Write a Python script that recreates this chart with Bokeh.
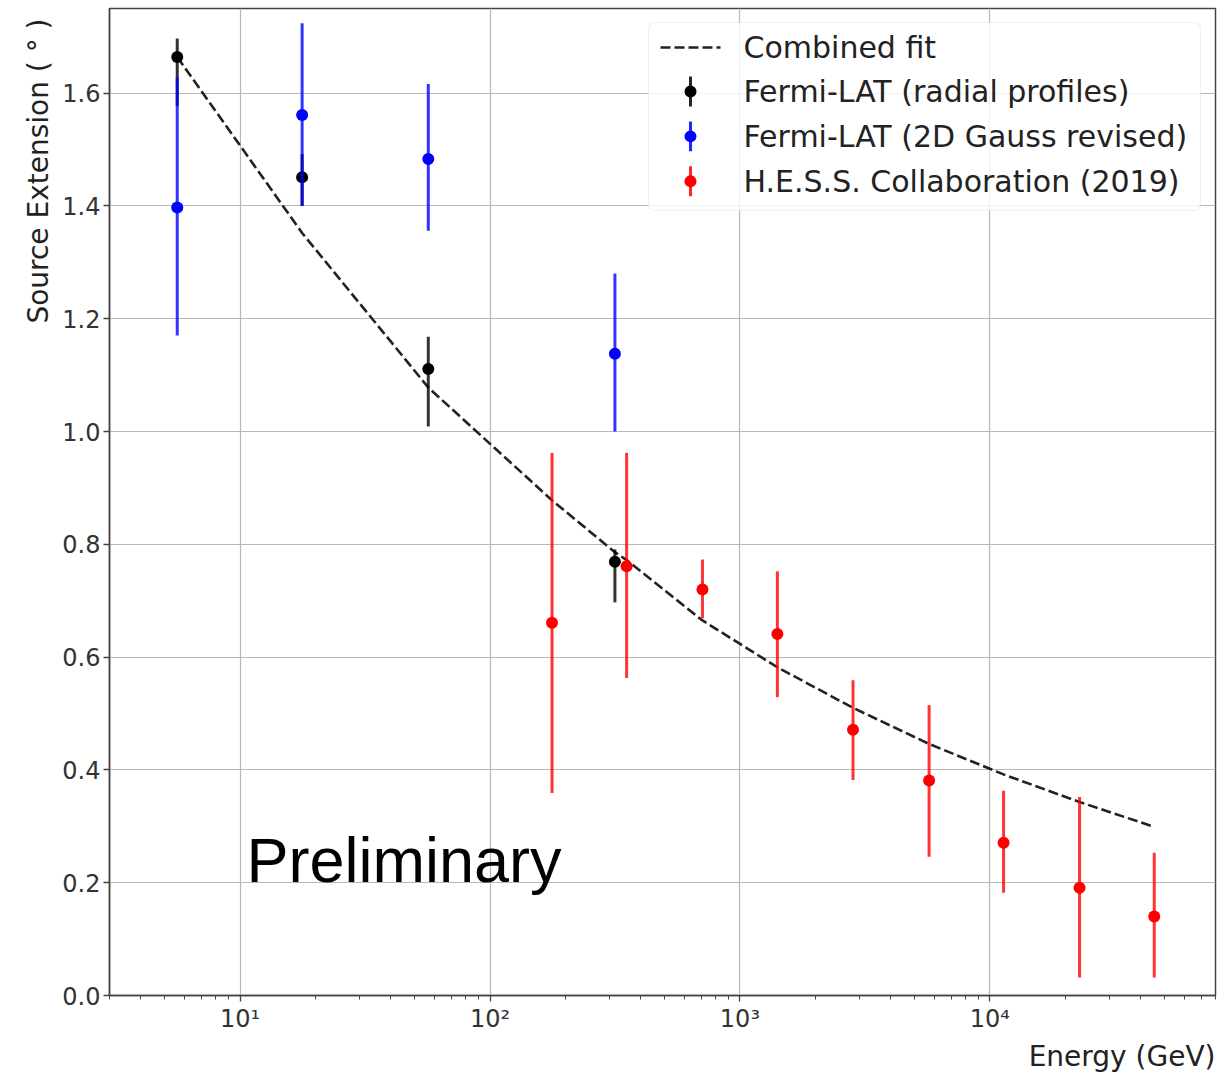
import math

from bokeh.embed import file_html
from bokeh.models import (Arrow, BoxAnnotation, ColumnDataSource, CustomJSTickFormatter,
                          FixedTicker, Label, LogTicker, NumeralTickFormatter, Range1d, Title)
from bokeh.plotting import figure
from bokeh.resources import INLINE

# ---- data -------------------------------------------------------------
# Fermi-LAT (radial profiles): energy [GeV], extension [deg], lower / upper bounds
lat_rad_energy = [5.6, 17.7, 56.6, 316.0]
lat_rad_ext = [1.664, 1.451, 1.111, 0.769]
lat_rad_lo = [1.577, 1.400, 1.009, 0.697]
lat_rad_hi = [1.697, 1.492, 1.168, 0.791]

# Fermi-LAT (2D Gauss revised)
lat_gauss_energy = [5.6, 17.7, 56.6, 316.0]
lat_gauss_ext = [1.397, 1.561, 1.483, 1.138]
lat_gauss_lo = [1.170, 1.400, 1.356, 1.000]
lat_gauss_hi = [1.628, 1.724, 1.616, 1.280]

# H.E.S.S. Collaboration (2019)
hess_energy = [177, 352, 708, 1412, 2835, 5715, 11350, 22860, 45500]
hess_ext = [0.661, 0.761, 0.720, 0.641, 0.471, 0.381, 0.271, 0.191, 0.140]
hess_lo = [0.359, 0.563, 0.669, 0.529, 0.382, 0.246, 0.182, 0.032, 0.032]
hess_hi = [0.962, 0.962, 0.773, 0.752, 0.559, 0.515, 0.363, 0.352, 0.253]

# combined fit evaluated at the measured energies
fit_energy = [5.6, 17.7, 56.6, 177, 316, 352, 708, 1412, 2835, 5715, 11350, 22860, 45500]
fit_ext = [1.664, 1.352, 1.078, 0.878, 0.786, 0.772, 0.665, 0.582, 0.510, 0.446,
           0.392, 0.343, 0.299]

y_ticks = [0.0, 0.2, 0.4, 0.6, 0.8, 1.0, 1.2, 1.4, 1.6]

legend_labels = ["Combined fit", "Fermi-LAT (radial profiles)",
                 "Fermi-LAT (2D Gauss revised)", "H.E.S.S. Collaboration (2019)"]
series_colors = ["#000000", "#0000ff", "#ff0000"]

x_label = "Energy (GeV)"
y_label = "Source Extension ( \u00b0 )"

# ---- figure -------------------------------------------------------------
X_LO, X_HI = 3.0, 8.0e4
Y_LO, Y_HI = 0.0, 1.75
FRAME_W, FRAME_H = 1106, 988

FONT = "DejaVu Sans"
TEXT = "#222222"
SPINE = "#444444"

p = figure(width=1227, height=1074, x_axis_type="log",
           x_range=Range1d(X_LO, X_HI), y_range=Range1d(Y_LO, Y_HI),
           output_backend="svg", toolbar_location=None,
           min_border_left=109, min_border_right=12,
           min_border_top=8, min_border_bottom=78)
p.background_fill_color = "white"
p.border_fill_color = "white"
p.outline_line_color = SPINE
p.outline_line_width = 1.5

# axes
xa, ya = p.xaxis[0], p.yaxis[0]
xa.ticker = LogTicker(num_minor_ticks=10)
xa.formatter = CustomJSTickFormatter(code="""
    const sup = {"0":"\u2070","1":"\u00b9","2":"\u00b2","3":"\u00b3","4":"\u2074",
                 "5":"\u2075","6":"\u2076","7":"\u2077","8":"\u2078","9":"\u2079","-":"\u207b"};
    const e = Math.round(Math.log10(tick));
    return "10" + String(e).split("").map(c => sup[c]).join("");
""")
ya.ticker = FixedTicker(ticks=y_ticks)
ya.formatter = NumeralTickFormatter(format="0.0")

for ax in (xa, ya):
    ax.axis_line_color = SPINE
    ax.axis_line_width = 1.5
    ax.major_tick_line_color = SPINE
    ax.major_tick_line_width = 1.3
    ax.major_tick_out = 6
    ax.major_tick_in = 0
    ax.major_label_text_font = FONT
    ax.major_label_text_font_size = "24px"
    ax.major_label_text_color = "#333333"
    ax.major_label_standoff = 3

xa.minor_tick_line_color = SPINE
xa.minor_tick_line_width = 1.0
xa.minor_tick_out = 4
xa.minor_tick_in = 0
ya.minor_tick_line_color = None

# axis titles, flush with the right / top end of the axes
p.add_layout(Title(text=x_label, align="right", text_font=FONT, text_font_size="28px",
                   text_font_style="normal", text_color=TEXT, standoff=4), "below")
p.add_layout(Title(text=y_label, align="right", text_font=FONT, text_font_size="28px",
                   text_font_style="normal", text_color=TEXT, standoff=10, offset=10), "left")

for g in (p.xgrid[0], p.ygrid[0]):
    g.grid_line_color = "#b8b8b8"
    g.grid_line_width = 1.2
p.ygrid[0].ticker = FixedTicker(ticks=y_ticks)

# ---- marks --------------------------------------------------------------
p.line(fit_energy, fit_ext, line_color="#222222", line_width=2.6, line_dash="10 4")

series = [
    (lat_rad_energy, lat_rad_ext, lat_rad_lo, lat_rad_hi, series_colors[0]),
    (lat_gauss_energy, lat_gauss_ext, lat_gauss_lo, lat_gauss_hi, series_colors[1]),
    (hess_energy, hess_ext, hess_lo, hess_hi, series_colors[2]),
]
for e, v, lo, hi, c in series:
    src = ColumnDataSource(dict(e=e, v=v, lo=lo, hi=hi))
    p.segment(x0="e", y0="lo", x1="e", y1="hi", source=src,
              line_color=c, line_width=3, line_alpha=0.8)
    p.scatter(x="e", y="v", source=src, size=12, marker="circle",
              fill_color=c, line_color=c, line_width=0)


# ---- legend (drawn by hand so that each key shows an error bar) -----------
def frame_to_data(fx, fy):
    """Pixel offset from the frame's top-left corner -> data coordinates."""
    lx = math.log10(X_LO) + fx / FRAME_W * (math.log10(X_HI) - math.log10(X_LO))
    return 10 ** lx, Y_HI - fy / FRAME_H * (Y_HI - Y_LO)


bx0, by0 = frame_to_data(539, 14)
bx1, by1 = frame_to_data(1091, 202)
p.add_layout(BoxAnnotation(left=bx0, right=bx1, top=by0, bottom=by1,
                           fill_color="white", fill_alpha=0.8,
                           line_color="#cccccc", line_width=1.2, border_radius=6,
                           level="overlay"))

row_y = [39, 83, 128, 173]

# dashed key for the fit
lx0, ly = frame_to_data(551, row_y[0])
lx1, _ = frame_to_data(611, row_y[0])
p.add_layout(Arrow(start=None, end=None, x_start=lx0, y_start=ly, x_end=lx1, y_end=ly,
                   line_color="#222222", line_width=2.6, line_dash="10 4", level="overlay"))

# error-bar keys
for fy, c in zip(row_y[1:], series_colors):
    kx, ktop = frame_to_data(581, fy - 15)
    _, kbot = frame_to_data(581, fy + 15)
    p.add_layout(Arrow(start=None, end=None, x_start=kx, y_start=kbot, x_end=kx, y_end=ktop,
                       line_color=c, line_width=3, line_alpha=0.85, level="overlay"))
    dl, dt = frame_to_data(575, fy - 6)
    dr, db = frame_to_data(587, fy + 6)
    p.add_layout(BoxAnnotation(left=dl, right=dr, top=dt, bottom=db, fill_color=c,
                               fill_alpha=1.0, line_color=None, border_radius=6,
                               level="overlay"))

for fy, txt in zip(row_y, legend_labels):
    tx, ty = frame_to_data(634, fy)
    p.add_layout(Label(x=tx, y=ty, text=txt, text_font=FONT, text_font_size="30px",
                       text_color=TEXT, text_baseline="middle", text_align="left",
                       level="overlay"))

# watermark
wx, wy = frame_to_data(137, 852)
p.add_layout(Label(x=wx, y=wy, text="Preliminary", text_font="Liberation Sans",
                   text_font_size="63px", text_color="black", text_baseline="alphabetic"))

open("out.html", "w").write(file_html(p, INLINE))
